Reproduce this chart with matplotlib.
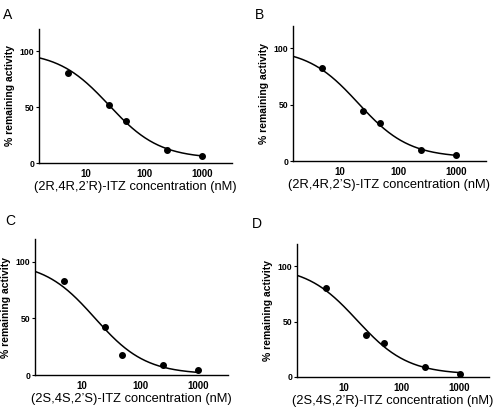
import numpy as np
import matplotlib
matplotlib.use("Agg")
import matplotlib.pyplot as plt

plt.rcParams['font.family'] = ['Liberation Sans', 'DejaVu Sans']

# concentrations (nM) and % remaining activity
conc = [5, 25, 50, 250, 1000]
act_A = [81, 52, 38, 12, 6]
act_B = [83, 44, 34, 10, 5]
act_C = [83, 42, 18, 9, 4]
act_D = [80, 38, 31, 9, 3]

letters = ["A", "B", "C", "D"]
xlabels = ["(2R,4R,2\u2019R)-ITZ concentration (nM)",
           "(2R,4R,2\u2019S)-ITZ concentration (nM)",
           "(2S,4S,2\u2019S)-ITZ concentration (nM)",
           "(2S,4S,2\u2019R)-ITZ concentration (nM)"]

TOP = 100.0  # normalised top plateau
HILL = 1.0   # standard slope


def fit_dose_response(x, y):
    """log(inhibitor) vs response, top fixed at 100 and hill slope 1:
    grid over logIC50, bottom solved by least squares"""
    lx = np.log10(np.asarray(x, float))
    y = np.asarray(y, float)
    best = None
    for lic in np.linspace(0.5, 2.5, 801):
        f = 1.0 / (1.0 + 10 ** ((lx - lic) * HILL))
        g = 1 - f
        bot = np.sum(g * (y - TOP * f)) / np.sum(g * g)
        bot = max(bot, 0.0)
        r = np.sum((bot * g + TOP * f - y) ** 2)
        if best is None or r < best[0]:
            best = (r, lic, bot)
    _, lic, bot = best
    return lambda xx: bot + (TOP - bot) / (1.0 + 10 ** ((np.log10(xx) - lic) * HILL))


# axes rectangles in pixels (left, top, right, bottom)
W, H = 496, 415
boxes = [(39, 29, 232, 163), (293, 26, 486, 161),
         (35, 239, 228, 375), (297, 244, 489, 377)]
letter_pos = [(8, 15), (259, 15), (10, 221), (257, 224)]

fig = plt.figure(figsize=(W / 100, H / 100), dpi=100)

for i, act in enumerate([act_A, act_B, act_C, act_D]):
    l, t, r, b = boxes[i]
    ax = fig.add_axes([l / W, 1 - b / H, (r - l) / W, (b - t) / H])
    ax.set_xscale('log')
    ax.set_xlim(1.6, 3200)
    ax.set_ylim(0, 120)
    curve = fit_dose_response(conc, act)
    xs = np.logspace(np.log10(1.6), np.log10(1000), 300)
    ax.plot(xs, curve(xs), color='black', lw=1.1)
    ax.plot(conc, act, 'o', color='black', ms=4)
    ax.set_xticks([10, 100, 1000])
    ax.set_xticklabels(['10', '100', '1000'])
    ax.xaxis.set_minor_locator(matplotlib.ticker.NullLocator())
    ax.set_yticks([0, 50, 100])
    for lab in ax.get_xticklabels() + ax.get_yticklabels():
        lab.set_fontweight('bold')
    ax.tick_params(axis='y', labelsize=6.2, length=2, width=0.8, pad=1.5)
    ax.tick_params(axis='x', labelsize=7, length=0, pad=4)
    ax.spines['top'].set_visible(False)
    ax.spines['right'].set_visible(False)
    ax.spines['left'].set_linewidth(1.0)
    ax.spines['bottom'].set_linewidth(1.0)
    ax.set_ylabel('% remaining activity', fontsize=7.5, fontweight='bold', labelpad=3)
    ax.set_xlabel(xlabels[i], fontsize=9.3, labelpad=2)
    lx, ly = letter_pos[i]
    fig.text(lx / W, 1 - ly / H, letters[i], fontsize=10, ha='center', va='center')

fig.savefig('out.png', dpi=100)
